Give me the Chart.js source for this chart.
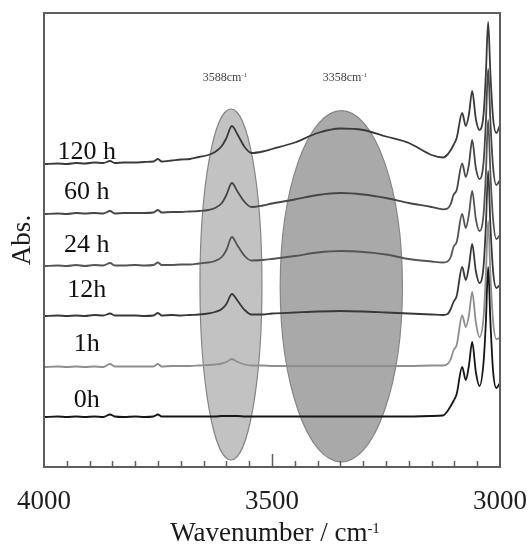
<!DOCTYPE html>
<html><head><meta charset="utf-8">
<style>html,body{margin:0;padding:0;background:#fff}#wrap{width:529px;height:548px}</style>
<script src="https://cdn.jsdelivr.net/npm/chart.js@4/dist/chart.umd.min.js"></script>
</head><body><div id="wrap"><canvas id="c" width="529" height="548"></canvas></div>
<script>
// Wavenumber grid (cm-1)
const wavenumbers = [4000,3970,3950,3930,3910,3890,3870,3855,3845,3825,3800,3780,3760,3750,3742,3720,3700,3680,3660,3640,3625,3610,3600,3588,3575,3560,3545,3520,3500,3450,3400,3350,3300,3250,3200,3150,3125,3115,3108,3102,3095,3083,3075,3068,3061,3053,3045,3036,3031,3026,3021,3015,3008,3000];
const seriesNames = ['0h','1h','12h','24 h','60 h','120 h'];
// vertical stacking offsets of each spectrum (arb. units)
const offsets = [50, 100, 151, 201, 253, 303];
// absorbance above each offset (arb. units)
const abs0h   = [0,0.5,0,0.5,0,0.5,0,2.5,0.5,0,0.5,0,0.5,2.5,0.5,0.5,0.5,0.5,0.5,0.5,0.5,1,1,1,1,0.5,0.5,0.5,0.5,0.5,0.5,0.5,0.5,0.5,0.5,1,1.5,6,11,16,23,50,37,52,75,45,31,55,95,150,95,45,29,34];
const abs1h   = [0,0.5,0,0.5,0,0.5,0,3,0.5,0.5,0.5,0.5,0.5,3,0.5,1,1,1,1.5,2,2.5,3.5,5,8,5,2.5,1.5,1.5,1,1,1,1,1,1,1,1.5,1.5,3,8,16.5,22,51.5,40,52,75,45,30,50,92,146,92,45,28,29];
const abs12h  = [0,0.5,0,0.5,0,1,0.5,2.5,0.5,0.5,0.5,0,0.5,3,0.5,1,0.5,1,1.5,2.5,4,7,12,22,15,6,1.5,1.5,2.5,3.5,4.5,5,4.5,3.5,2.5,1.5,1,2,7,14,20,49,36,50,72,45,33,50,90,145,90,44,28,31];
const abs24h  = [0,0.5,0,1,0,1,0.5,3,0.5,0.5,1,0.5,1,3.5,1,1,1.5,1.5,2.5,3.5,5,9,16,29,20,10,5.5,6,7,10,13.5,15,14,11.5,7,4.5,3.5,4.5,9,19,24,52,38,52,75,47,35,52,92,146,92,46,27,31];
const abs60h  = [0,0.5,0,1,0.5,1,0.5,3,0.5,1,1,1,1.5,4,1.5,2,2,2.5,3,4,6,11,19,31,22,12,7,8.5,10.5,14.5,19,21,19.5,16,11,7,4.7,5.5,10,19,24,50.7,37,50,74,46,35,52,92,145,92,46,29,34];
const abs120h = [0,0.5,0,1,0.5,1.5,1,3,1,1.5,1.5,2,2.5,5,2.5,3.5,4.5,5,7,9,12,18,26,38,29,17,11,12.5,15,21.5,31,35.5,34,27.5,21,9,6.5,9.5,14,19,26,51,38,50,73,45,34,50,90,142,90,45,31,39];
const absorbance = [abs0h, abs1h, abs12h, abs24h, abs60h, abs120h];
const xTickLabels = [4000, 3500, 3000];
const bandLabels = ['3588', '3358'];

// styles and positions (not data)
const lineColors = ['#161616','#8e8e8e','#383838','#545454','#464646','#3a3a3a'];
const labelAnchors = [ // [wavenumber, y] for the series names (text baseline)
  [3906, 60.5],[3906, 116.5],[3906, 170.5],[3906, 215.5],[3906, 268],[3906, 308.5]
];
const ellipses = [
  {cx: 3590, hw: 68, cy: 182.5, hh: 175.5, fill: '#c2c2c2'},
  {cx: 3348, hw: 134, cy: 180.7, hh: 175.6, fill: '#a9a9a9'}
];
const bandAnchors = [[3603, 390], [3340, 390]];

const datasets = seriesNames.map((name, i) => ({
  label: name,
  data: wavenumbers.map((w, j) => ({x: w, y: offsets[i] + absorbance[i][j]})),
  borderColor: lineColors[i],
  borderWidth: 1.8,
  pointRadius: 0,
  fill: false,
  cubicInterpolationMode: 'monotone'
}));

const SERIF = '"Liberation Serif", "DejaVu Serif", serif';

const decor = {
  id: 'decor',
  beforeDatasetsDraw(chart) {
    const {ctx, scales: {x, y}} = chart;
    ctx.save();
    ellipses.forEach(e => {
      const cx = x.getPixelForValue(e.cx);
      const rx = Math.abs(x.getPixelForValue(e.cx - e.hw) - cx);
      const cy = y.getPixelForValue(e.cy);
      const ry = Math.abs(y.getPixelForValue(e.cy + e.hh) - cy);
      ctx.beginPath();
      ctx.ellipse(cx, cy, rx, ry, 0, 0, Math.PI * 2);
      ctx.fillStyle = e.fill;
      ctx.fill();
      ctx.lineWidth = 1.2;
      ctx.strokeStyle = '#858585';
      ctx.stroke();
    });
    ctx.restore();
  },
  afterDatasetsDraw(chart) {
    const {ctx, chartArea: a, scales: {x, y}} = chart;
    ctx.save();
    // frame
    ctx.strokeStyle = '#5e5e5e';
    ctx.lineWidth = 2;
    ctx.strokeRect(a.left, a.top, a.right - a.left, a.bottom - a.top);
    // inner ticks
    ctx.lineWidth = 1.5;
    for (let w = 3050; w < 4000; w += 50) {
      const px = Math.round(x.getPixelForValue(w)) + 0.5;
      const len = (w % 500 === 0) ? 13 : 6;
      ctx.beginPath();
      ctx.moveTo(px, a.bottom);
      ctx.lineTo(px, a.bottom - len);
      ctx.stroke();
    }
    // series names
    ctx.fillStyle = '#111';
    ctx.font = '26px ' + SERIF;
    ctx.textAlign = 'center';
    ctx.textBaseline = 'alphabetic';
    seriesNames.forEach((n, i) => {
      ctx.fillText(n, x.getPixelForValue(labelAnchors[i][0]), y.getPixelForValue(labelAnchors[i][1]));
    });
    // band labels with superscript
    bandLabels.forEach((t, i) => {
      const cx = x.getPixelForValue(bandAnchors[i][0]);
      const cy = y.getPixelForValue(bandAnchors[i][1]);
      ctx.font = '12px ' + SERIF;
      const main = t + 'cm';
      const mw = ctx.measureText(main).width;
      ctx.font = '7px ' + SERIF;
      const sw = ctx.measureText('-1').width;
      const left = cx - (mw + sw) / 2;
      ctx.fillStyle = '#444';
      ctx.textAlign = 'left';
      ctx.textBaseline = 'alphabetic';
      ctx.font = '12px ' + SERIF;
      ctx.fillText(main, left, cy + 4);
      ctx.font = '7px ' + SERIF;
      ctx.fillText('-1', left + mw, cy);
    });
    ctx.restore();
  },
  afterDraw(chart) {
    const {ctx, chartArea: a} = chart;
    ctx.save();
    ctx.fillStyle = '#1a1a1a';
    // x title
    ctx.font = '27px ' + SERIF;
    const main = 'Wavenumber / cm';
    const mw = ctx.measureText(main).width;
    ctx.font = '15px ' + SERIF;
    const sw = ctx.measureText('-1').width;
    const cx = (a.left + a.right) / 2 + 3;
    const left = cx - (mw + sw) / 2;
    ctx.textAlign = 'left';
    ctx.textBaseline = 'alphabetic';
    ctx.font = '27px ' + SERIF;
    ctx.fillText(main, left, 541);
    ctx.font = '15px ' + SERIF;
    ctx.fillText('-1', left + mw, 533);
    // y title
    ctx.translate(23, (a.top + a.bottom) / 2);
    ctx.rotate(-Math.PI / 2);
    ctx.font = '27px ' + SERIF;
    ctx.textAlign = 'center';
    ctx.textBaseline = 'middle';
    ctx.fillText('Abs.', 0, 0);
    ctx.restore();
  }
};

new Chart(document.getElementById('c'), {
  type: 'line',
  data: {datasets},
  options: {
    responsive: false,
    animation: false,
    events: [],
    layout: {padding: {left: 44, right: 29, top: 13, bottom: 30}},
    plugins: {legend: {display: false}, tooltip: {enabled: false}},
    scales: {
      x: {
        type: 'linear', reverse: true, min: 3000, max: 4000,
        afterBuildTicks(s) { s.ticks = xTickLabels.map(v => ({value: v})); },
        afterFit(s) { s.height = 51; s.paddingLeft = 0; s.paddingRight = 0; },
        grid: {display: false, drawTicks: false},
        border: {display: false},
        ticks: {
          autoSkip: false, maxRotation: 0, padding: 19, color: '#1e1e1e',
          font: {family: SERIF, size: 27},
          callback: v => String(v)
        }
      },
      y: {display: false, min: 0, max: 454}
    }
  },
  plugins: [decor]
});
</script></body></html>
